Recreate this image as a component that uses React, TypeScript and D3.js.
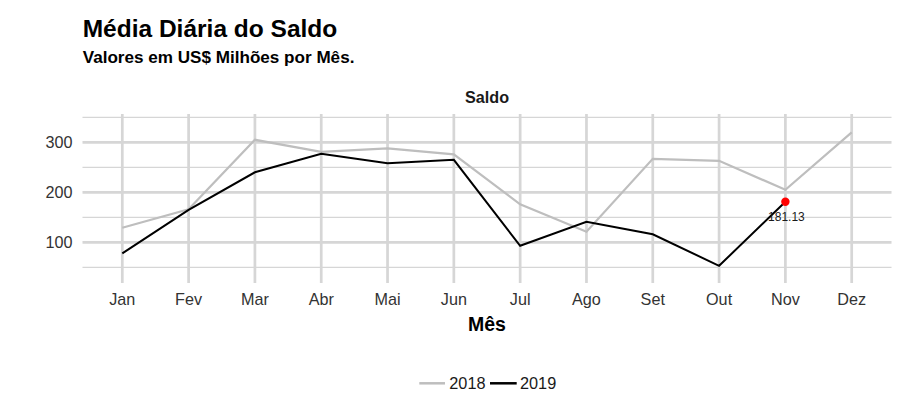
import React from "react";
import * as d3 from "d3";

const months = ["Jan", "Fev", "Mar", "Abr", "Mai", "Jun", "Jul", "Ago", "Set", "Out", "Nov", "Dez"];
const values2018 = [129, 166, 305, 281, 288, 276, 176, 121, 267, 263, 205, 320];
const values2019 = [78, 165, 240, 277, 258, 265, 93, 141, 116, 53, 181.13];
const yMajorTicks = [100, 200, 300];
const yMinorTicks = [50, 150, 250, 350];
const seriesNames = ["2018", "2019"];

const W = 909;
const H = 403;
const FONT = "'Liberation Sans', Arial, sans-serif";

export default function App() {
  const panelLeft = 82.5;
  const panelRight = 891.5;
  const panelTop = 114;
  const panelBottom = 283;

  const x = d3.scalePoint<string>().domain(months).range([122.3, 851.7]);
  const y = d3.scaleLinear().domain([0, 350]).range([292.3, 117.3]);

  const line = d3
    .line<number>()
    .x((_, i) => x(months[i]) as number)
    .y((d) => y(d));

  const gridColor = "#d6d6d6";
  const lastIdx = values2019.length - 1;
  const lastVal = values2019[lastIdx];
  const lastX = x(months[lastIdx]) as number;
  const lastY = y(lastVal);

  return (
    <svg width={W} height={H} style={{ position: "absolute", left: 0, top: 0, background: "#fff" }} fontFamily={FONT}>
      <rect x={0} y={0} width={W} height={H} fill="#fff" />
      <text x={82.7} y={37.3} fontSize={24.5} fontWeight="bold" fill="#000">
        Média Diária do Saldo
      </text>
      <text x={82.7} y={63.3} fontSize={17.1} fontWeight="bold" fill="#000">
        Valores em US$ Milhões por Mês.
      </text>
      <text x={487} y={103.3} fontSize={16.2} fontWeight="bold" fill="#1a1a1a" textAnchor="middle">
        Saldo
      </text>

      {/* grid */}
      {yMinorTicks.map((t) => (
        <line key={"mi" + t} x1={panelLeft} x2={panelRight} y1={y(t)} y2={y(t)} stroke={gridColor} strokeWidth={1.3} />
      ))}
      {yMajorTicks.map((t) => (
        <line key={"ma" + t} x1={panelLeft} x2={panelRight} y1={y(t)} y2={y(t)} stroke={gridColor} strokeWidth={2.7} />
      ))}
      {months.map((m) => (
        <line key={"v" + m} x1={x(m)} x2={x(m)} y1={panelTop} y2={panelBottom} stroke={gridColor} strokeWidth={2.7} />
      ))}

      {/* y tick labels */}
      {yMajorTicks.map((t) => (
        <text key={"yl" + t} x={72.5} y={y(t) + 5.5} fontSize={16.2} fill="#333" textAnchor="end">
          {t}
        </text>
      ))}
      {/* x tick labels */}
      {months.map((m) => (
        <text key={"xl" + m} x={x(m)} y={305} fontSize={16.2} fill="#333" textAnchor="middle">
          {m}
        </text>
      ))}
      <text x={487} y={330.5} fontSize={19.5} fontWeight="bold" fill="#000" textAnchor="middle">
        Mês
      </text>

      {/* series */}
      <path d={line(values2018) || ""} fill="none" stroke="#bebebe" strokeWidth={2.2} />
      <path d={line(values2019) || ""} fill="none" stroke="#000" strokeWidth={2} />
      <circle cx={lastX} cy={lastY} r={4.2} fill="#ff0000" />
      <text x={lastX + 1} y={lastY + 19} fontSize={12} fill="#1a1a1a" textAnchor="middle">
        {lastVal.toFixed(2)}
      </text>

      {/* legend */}
      <line x1={419.3} x2={445} y1={383.3} y2={383.3} stroke="#bebebe" strokeWidth={2.5} />
      <text x={449.3} y={388.8} fontSize={16.3} fill="#1a1a1a">
        {seriesNames[0]}
      </text>
      <line x1={490} x2={516.7} y1={383.3} y2={383.3} stroke="#000" strokeWidth={2.5} />
      <text x={520} y={388.8} fontSize={16.3} fill="#1a1a1a">
        {seriesNames[1]}
      </text>
    </svg>
  );
}
